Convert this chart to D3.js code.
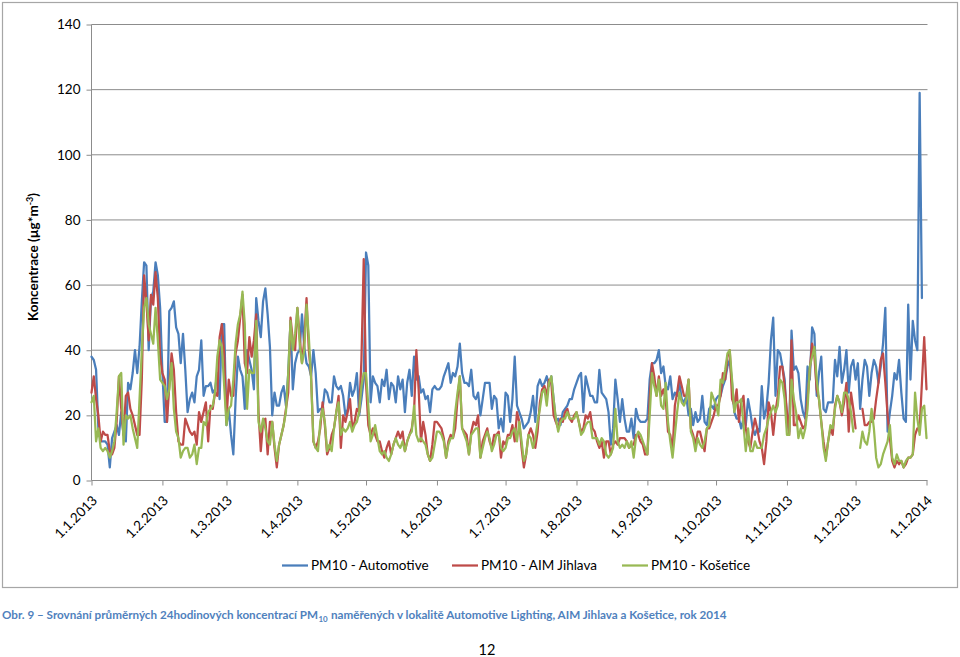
<!DOCTYPE html>
<html><head><meta charset="utf-8">
<script src="https://cdn.jsdelivr.net/npm/d3@7"></script>
<style>body{margin:0;background:#fff}svg{display:block}</style>
</head><body><svg id="c" width="960" height="657"></svg>
<script>
// ---- data (daily values, day 0 = 1.1.2013) ----
const monthTicks = [0,31,59,90,120,151,181,212,243,273,304,334,365];
const tickLabels = ["1.1.2013","1.2.2013","1.3.2013","1.4.2013","1.5.2013","1.6.2013","1.7.2013","1.8.2013","1.9.2013","1.10.2013","1.11.2013","1.12.2013","1.1.2014"];
const yTicks = [0,20,40,60,80,100,120,140];
const seriesNames = ["PM10 - Automotive","PM10 - AIM Jihlava","PM10 - Košetice"];
const automotive = [
38,37,34,16,12,12,12,11,4,13,15,17,14,21,14,12,30,28,33,40,33,41,55,67,66,40,56,58,67,63,53,
33,18,18,52,53,55,47,45,36,45,34,21,25,27,24,32,34,43,26,29,29,30,27,28,33,25,48,48,
17,22,14,8,25,38,34,32,22,40,37,34,28,56,49,44,55,59,51,41,20,27,23,23,27,29,23,33,49,28,36,
39,40,51,41,36,35,32,40,33,21,22,22,28,27,24,24,32,29,28,29,26,20,22,30,26,28,33,20,25,31,
70,66,24,32,30,29,24,31,29,34,25,30,29,24,32,28,31,21,30,34,26,38,31,32,27,28,25,26,21,28,29,
28,28,29,32,34,36,30,33,32,35,42,33,30,30,29,34,26,25,27,20,25,30,30,30,22,26,25,16,19,15,
27,26,18,25,38,23,21,19,16,17,18,21,26,18,29,31,29,30,32,29,32,25,18,19,17,21,22,23,25,25,28,
30,32,33,21,32,29,26,26,24,24,34,27,26,25,21,11,16,31,25,18,25,19,15,15,19,13,22,19,18,18,18,
19,31,36,36,37,40,33,35,29,28,32,25,27,26,30,25,24,26,20,22,17,21,18,19,26,18,17,22,23,22,
25,26,26,29,31,35,37,30,21,19,19,16,19,17,25,21,16,14,16,15,29,19,22,30,43,50,26,40,39,35,31,
18,15,46,34,35,33,25,21,19,35,31,47,45,26,33,38,22,21,24,24,24,37,32,41,30,34,40,27,35,37,
31,36,22,31,37,35,26,33,37,35,30,35,42,53,15,21,26,33,31,37,27,19,18,54,31,49,43,40,119,56,null,null];
const jihlava = [
27,32,25,20,12,15,14,14,9,8,10,18,32,22,14,26,27,22,20,17,14,14,31,63,55,43,57,54,64,56,38,
33,31,18,29,39,34,21,12,11,11,19,17,15,14,15,11,21,18,21,24,12,23,22,27,26,44,48,39,
18,31,26,26,39,43,50,57,36,33,44,38,43,51,21,9,18,19,8,18,18,10,4,11,14,17,22,27,50,43,40,
53,44,36,43,56,40,32,12,10,12,16,24,17,8,10,14,16,21,26,10,20,18,21,25,16,18,22,21,37,68,
30,17,14,16,14,12,12,9,7,10,12,8,11,13,15,13,15,9,12,14,16,21,40,28,12,18,14,8,6,11,18,
18,17,16,13,7,12,14,13,16,25,32,16,15,14,8,15,18,17,20,7,12,14,16,12,10,14,14,15,7,12,
11,14,14,17,12,21,18,10,4,8,14,16,14,10,15,24,28,29,26,31,30,20,18,16,19,18,21,22,19,18,20,
21,18,15,16,20,19,21,16,15,12,10,12,7,12,12,8,11,12,11,13,13,13,12,10,11,11,14,14,12,11,8,
8,25,36,32,26,32,26,28,25,15,14,9,23,27,32,29,26,26,31,16,14,11,15,15,12,9,16,16,18,20,
23,23,26,33,31,38,40,25,23,28,18,24,26,16,12,10,15,19,16,12,10,5,12,24,21,14,21,26,35,35,29,
21,14,43,17,17,20,18,16,17,25,34,42,38,28,25,18,12,7,12,16,14,23,26,24,20,24,30,15,27,22,
16,null,null,22,17,17,18,18,19,25,30,37,39,30,20,13,6,4,6,5,6,4,5,7,7,8,14,16,16,30,44,28];
const kosetice = [
24,26,12,16,10,9,10,9,7,9,12,21,32,33,11,20,19,20,16,13,10,25,40,53,56,48,45,42,53,43,31,
30,29,25,28,36,22,15,13,7,9,10,10,7,8,11,5,10,10,18,17,21,22,23,27,38,43,41,29,
17,22,23,31,42,48,51,58,48,22,34,33,33,49,18,15,19,16,12,11,18,11,6,11,14,17,21,33,49,40,45,
53,42,36,40,54,44,31,12,10,9,18,22,18,9,11,9,16,21,24,14,16,15,16,18,15,17,18,21,29,33,
33,23,12,14,17,13,9,8,9,7,6,8,11,13,11,10,12,9,12,14,15,23,14,12,13,12,11,8,6,7,11,
15,15,14,12,7,11,13,13,21,27,32,16,14,12,8,14,15,16,16,7,10,13,15,13,9,11,14,14,10,9,
10,13,13,15,16,12,18,12,6,8,14,13,10,13,18,22,27,28,23,30,32,25,19,15,18,19,19,21,19,19,19,
21,18,14,15,17,18,18,13,13,13,11,13,12,8,7,8,10,22,12,10,11,10,12,10,12,7,13,15,14,12,10,
8,20,33,29,26,31,23,22,30,18,12,7,14,21,27,24,23,25,31,15,13,9,13,11,10,12,16,17,27,25,
23,20,31,30,34,39,40,31,21,24,24,25,17,9,16,9,9,12,10,10,10,14,16,19,21,23,21,23,31,30,25,
14,14,31,25,21,13,16,13,16,22,35,38,41,31,25,18,10,6,12,17,16,22,26,24,21,27,27,25,21,15,
null,null,10,15,12,11,15,22,16,7,4,5,8,10,12,17,7,5,8,6,6,4,6,7,7,8,27,19,14,22,23,13];
const seriesColors = ["#4a7ebb","#be4b48","#98b954"];

// ---- chart ----
const svg = d3.select("#c");
const FONT = "Lato, 'Open Sans', sans-serif";
svg.append("rect").attr("x",2.5).attr("y",2.5).attr("width",955).attr("height",585)
  .attr("fill","#fff").attr("stroke","#a6a6a6").attr("stroke-width",1.2);

const x = d3.scaleLinear().domain([0,365]).range([91.5,926.5]);
const y = d3.scaleLinear().domain([0,140]).range([480.5,24.5]);

// gridlines
svg.append("g").selectAll("line").data(yTicks.filter(v=>v>0)).join("line")
  .attr("x1",91.5).attr("x2",927.5).attr("y1",d=>y(d)).attr("y2",d=>y(d))
  .attr("stroke","#8c8c8c").attr("stroke-width",1);

// y axis
const yAxis = d3.axisLeft(y).tickValues(yTicks).tickSize(5).tickPadding(6);
const gy = svg.append("g").attr("transform","translate(91.5,0)").call(yAxis);
gy.select(".domain").attr("stroke","#8c8c8c").attr("d","M0,24.5V480.5");
gy.selectAll(".tick line").attr("stroke","#8c8c8c");
gy.selectAll(".tick text").attr("font-family",FONT).attr("font-size",13.5).attr("fill","#000");

// x axis
const xAxis = d3.axisBottom(x).tickValues(monthTicks).tickSize(5).tickFormat((d,i)=>tickLabels[i]);
const gx = svg.append("g").attr("transform","translate(0,480.5)").call(xAxis);
gx.select(".domain").attr("stroke","#8c8c8c").attr("d","M91.5,0H927.5");
gx.selectAll(".tick line").attr("stroke","#8c8c8c");
gx.selectAll(".tick text").attr("font-family",FONT).attr("font-size",13.5).attr("fill","#000")
  .attr("text-anchor","end").attr("y",0).attr("dy",0)
  .attr("transform","translate(6,21) rotate(-45)");

// series
const series = [automotive, jihlava, kosetice];
const line = d3.line().defined(d=>d!=null).x((d,i)=>x(i)).y(d=>y(d));
series.forEach((s,k)=>{
  svg.append("path").datum(s).attr("d",line).attr("fill","none")
    .attr("stroke",seriesColors[k]).attr("stroke-width",2.25)
    .attr("stroke-linejoin","round").attr("stroke-linecap","round");
});

// y title
const yt = svg.append("text").attr("transform","translate(38,257) rotate(-90)")
  .attr("text-anchor","middle").attr("font-family",FONT).attr("font-weight","bold")
  .attr("font-size",13.5).attr("fill","#000");
yt.append("tspan").text("Koncentrace (µg*m");
yt.append("tspan").attr("font-size",9).attr("dy",-5).text("-3");
yt.append("tspan").attr("dy",5).text(")");

// legend
const legX = [282,452,622];
series.forEach((s,k)=>{
  svg.append("line").attr("x1",legX[k]).attr("x2",legX[k]+26).attr("y1",565.5).attr("y2",565.5)
    .attr("stroke",seriesColors[k]).attr("stroke-width",2.25);
  svg.append("text").attr("x",legX[k]+29).attr("y",570).attr("font-family",FONT)
    .attr("font-size",13.5).attr("fill","#000").text(seriesNames[k]);
});

// caption: three pieces laid out side by side, scaled to fit 725px
const capParts = ["Obr. 9 – Srovnání průměrných 24hodinových koncentrací PM", "10",
  " naměřených v lokalitě Automotive Lighting, AIM Jihlava a Košetice, rok 2014"];
const capG = svg.append("g");
const capNodes = capParts.map((t,i)=>capG.append("text").attr("y", i===1 ? 621.5 : 619)
  .attr("font-family",FONT).attr("font-weight","bold").attr("font-size", i===1 ? 8.5 : 12.5)
  .attr("fill","#4f81bd").attr("xml:space","preserve").style("white-space","pre").text(t));
let total = capNodes.reduce((a,n)=>a+n.node().getComputedTextLength(),0);
const sc = 725/total;
let cx = 2;
capNodes.forEach((n,i)=>{
  n.attr("font-size",(i===1?8.5:12.5)*sc).attr("x",cx);
  cx += n.node().getComputedTextLength() + (i===1 ? 0.5 : 0.3);
});

svg.append("text").attr("x",487).attr("y",655).attr("text-anchor","middle")
  .attr("font-family",FONT).attr("font-size",14.5).attr("fill","#000").text("12");
</script></body></html>
